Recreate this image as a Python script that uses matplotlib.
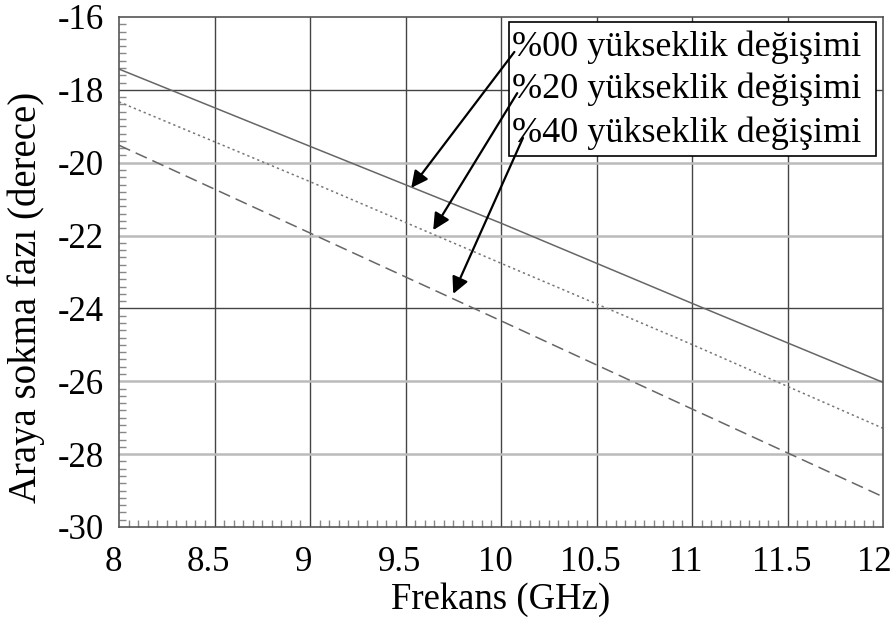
import numpy as np
import matplotlib.transforms as mtransforms
from matplotlib import pyplot as plt
from matplotlib.patches import Rectangle
from matplotlib.ticker import MultipleLocator

plt.rcParams['font.family'] = ['Liberation Serif', 'DejaVu Serif']

freq = [8, 9, 10, 11, 12]
phase_00 = [-17.43, -19.55, -21.66, -23.86, -26.03]
phase_20 = [-18.33, -20.52, -22.76, -24.99, -27.29]
phase_40 = [-19.52, -21.93, -24.34, -26.76, -29.17]

xticks = [8, 8.5, 9, 9.5, 10, 10.5, 11, 11.5, 12]
xtick_labels = ["8", "8.5", "9", "9.5", "10", "10.5", "11", "11.5", "12"]
yticks = [-30, -28, -26, -24, -22, -20, -18, -16]

labels = ["%00 yükseklik değişimi", "%20 yükseklik değişimi", "%40 yükseklik değişimi"]
# arrow tips on the curves and tails at the legend text
tips = [(9.53, -20.69), (9.645, -21.85), (9.75, -23.60)]
tails = [(10.07, -16.96), (10.085, -18.09), (10.115, -19.32)]

fig = plt.figure(figsize=(8.92, 6.18), dpi=100)
ax = fig.add_axes([119/892, 1 - 527/618, 764/892, 510/618])

ax.plot(freq, phase_00, color="#666666", lw=1.1, ls="-")
ax.plot(freq, phase_20, color="#777777", lw=1.1, ls=(0, (1.5, 2)))
ax.plot(freq, phase_40, color="#666666", lw=1.1, ls=(0, (8, 4)))

ax.set_xlim(8, 12)
ax.set_ylim(-30, -16)
ax.set_xticks(xticks)
ax.set_xticklabels(xtick_labels)
ax.set_yticks(yticks)
ax.set_yticklabels([str(v) for v in yticks])
ax.xaxis.set_minor_locator(MultipleLocator(0.05))
ax.yaxis.set_minor_locator(MultipleLocator(0.2))

for xv in xticks[1:-1]:
    ax.axvline(xv, color="#444444", lw=1.0, zorder=0)
for yv in [-28, -26, -22, -20]:
    ax.axhline(yv, color="#bbbbbb", lw=1.8, zorder=0)
for yv in [-24, -18]:
    ax.axhline(yv, color="#444444", lw=1.0, zorder=0)

ax.tick_params(axis="x", which="major", direction="in", length=0, labelsize=25, pad=14)
ax.tick_params(axis="y", which="major", direction="in", length=0, labelsize=25, pad=11)
ax.tick_params(axis="both", which="minor", direction="in", length=5, color="#888888", width=1)
for s in ax.spines.values():
    s.set_color("#555555")
    s.set_linewidth(1.2)

# the x labels sit a bit left of their ticks
for i, lab in enumerate(ax.get_xticklabels()):
    dx = -9 if i == len(xticks) - 1 else -6
    lab.set_transform(lab.get_transform() + mtransforms.ScaledTranslation(dx/100, 0, fig.dpi_scale_trans))

ax.set_xlabel("Frekans (GHz)", fontsize=26.5, labelpad=2)
ax.set_ylabel("Araya sokma fazı (derece)", fontsize=28)
ax.yaxis.set_label_coords(-0.097, 0.45)

ax.add_patch(Rectangle((10.042, -19.815), 1.921, 3.678, facecolor="white",
                       edgecolor="black", lw=1.2, zorder=3))
for lab, yb in zip(labels, [-17.07, -18.22, -19.43]):
    ax.text(10.058, yb, lab, fontsize=26, va="baseline", ha="left", zorder=4)

for tip, tail in zip(tips, tails):
    ax.annotate("", xy=tip, xytext=tail, zorder=5,
                arrowprops=dict(arrowstyle="-|>", mutation_scale=25, color="black",
                                lw=1.6, shrinkA=0, shrinkB=0))

fig.savefig("out.png", dpi=100)
